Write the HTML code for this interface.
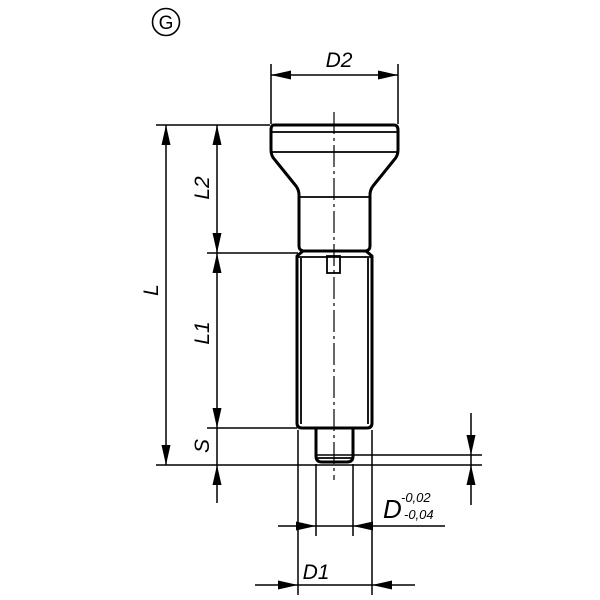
<!DOCTYPE html>
<html><head><style>html,body{margin:0;padding:0;background:#fff}svg{display:block}</style></head>
<body>
<svg width="600" height="600" viewBox="0 0 600 600" xmlns="http://www.w3.org/2000/svg">
<g fill="none" stroke="#000">
<circle cx="166" cy="22" r="13.5" stroke-width="1.6"/>
<g stroke-width="3" stroke-linejoin="round">
<path d="M274,125 L394,125 Q398,125 398,130 L398,150 Q398,156 394,160 L373,186 Q370,190 370,195 L370,246 Q370,250 366,251 L303,251 Q299,250 299,246 L299,195 Q299,190 296,186 L275,160 Q271,156 271,150 L271,130 Q271,125 274,125 Z"/>
<path d="M303,251 L297,256 L297,423 Q297,428 302,428 L367,428 Q372,428 372,423 L372,256 L366,251"/>
<path d="M316,428 L316,456 Q316,462 322,462 L347,462 Q353,462 353,456 L353,428"/>
</g>
<g stroke-width="1.8">
<line x1="272" y1="132" x2="397" y2="132"/>
<line x1="272" y1="152" x2="397" y2="152"/>
<line x1="299" y1="197" x2="370" y2="197"/>
<line x1="301" y1="258" x2="301" y2="424"/>
<line x1="368" y1="258" x2="368" y2="424"/>
<line x1="298" y1="257" x2="371" y2="257"/>
<rect x="327" y="256" width="13" height="17"/>
<line x1="317" y1="458" x2="352" y2="458"/>
</g>
<line x1="334" y1="112" x2="334" y2="480" stroke-width="1.2" stroke-dasharray="22,4,3,4"/>
<g stroke-width="1.5">
<line x1="271" y1="64" x2="271" y2="124"/>
<line x1="398" y1="64" x2="398" y2="124"/>
<line x1="271" y1="75" x2="398" y2="75"/>
<line x1="156" y1="125" x2="270" y2="125"/>
<line x1="207" y1="253" x2="298" y2="253"/>
<line x1="207" y1="428" x2="297" y2="428"/>
<line x1="156" y1="465" x2="482" y2="465"/>
<line x1="316" y1="455" x2="482" y2="455"/>
<line x1="166" y1="125" x2="166" y2="465"/>
<line x1="217" y1="125" x2="217" y2="503"/>
<line x1="471" y1="413" x2="471" y2="505"/>
<line x1="298" y1="430" x2="298" y2="595"/>
<line x1="372" y1="430" x2="372" y2="595"/>
<line x1="316" y1="464" x2="316" y2="536"/>
<line x1="353" y1="464" x2="353" y2="536"/>
<line x1="278" y1="526" x2="445" y2="526"/>
<line x1="255" y1="585" x2="415" y2="585"/>
</g>
</g>
<g fill="#000">
<polygon points="271,75 291,70.5 291,79.5"/>
<polygon points="398,75 378,70.5 378,79.5"/>
<polygon points="166,125 161.5,145 170.5,145"/>
<polygon points="166,465 161.5,445 170.5,445"/>
<polygon points="217,125 212.5,145 221.5,145"/>
<polygon points="217,253 212.5,233 221.5,233"/>
<polygon points="217,253 212.5,273 221.5,273"/>
<polygon points="217,428 212.5,408 221.5,408"/>
<polygon points="217,465 212.5,485 221.5,485"/>
<polygon points="471,455 466.5,435 475.5,435"/>
<polygon points="471,465 466.5,485 475.5,485"/>
<polygon points="316,526 296,521.5 296,530.5"/>
<polygon points="353,526 373,521.5 373,530.5"/>
<polygon points="298,585 278,580.5 278,589.5"/>
<polygon points="372,585 392,580.5 392,589.5"/>
</g>
<g font-family="Liberation Sans, sans-serif" font-style="italic" fill="#000">
<text x="166" y="29" font-size="19" font-style="normal" text-anchor="middle">G</text>
<text x="339" y="67" font-size="21" text-anchor="middle">D2</text>
<text x="316" y="579" font-size="21" text-anchor="middle">D1</text>
<text x="383" y="518" font-size="26">D</text>
<text x="401" y="502" font-size="13">-0,02</text>
<text x="404" y="519" font-size="13">-0,04</text>
<text font-size="21" transform="translate(158,290) rotate(-90)" text-anchor="middle">L</text>
<text font-size="21" transform="translate(209,188) rotate(-90)" text-anchor="middle">L2</text>
<text font-size="21" transform="translate(209,333) rotate(-90)" text-anchor="middle">L1</text>
<text font-size="21" transform="translate(209,446) rotate(-90)" text-anchor="middle">S</text>
</g>
</svg>
</body></html>
